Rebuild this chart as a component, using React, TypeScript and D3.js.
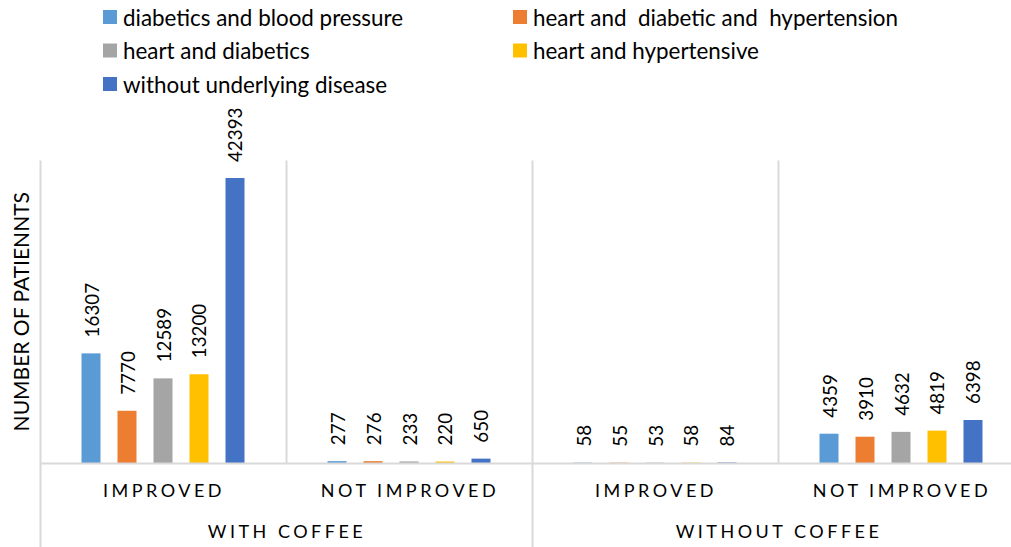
import React, { useEffect, useRef } from 'react';
import * as d3 from 'd3';

const groups = ['WITH COFFEE', 'WITHOUT COFFEE'];
const categories = ['IMPROVED', 'NOT IMPROVED', 'IMPROVED', 'NOT IMPROVED'];
const seriesNames = [
  'diabetics and blood pressure',
  'heart and  diabetic and  hypertension',
  'heart and diabetics',
  'heart and hypertensive',
  'without underlying disease',
];
const colors = ['#5B9BD5', '#ED7D31', '#A5A5A5', '#FFC000', '#4472C4'];

// values per series, one entry per category (with/improved, with/not, without/improved, without/not)
const diabBP = [16307, 277, 58, 4359];
const heartDiabHyp = [7770, 276, 55, 3910];
const heartDiab = [12589, 233, 53, 4632];
const heartHyp = [13200, 220, 58, 4819];
const noDisease = [42393, 650, 84, 6398];
const seriesValues = [diabBP, heartDiabHyp, heartDiab, heartHyp, noDisease];

const App: React.FC = () => {
  const svgRef = useRef<SVGSVGElement | null>(null);

  useEffect(() => {
    if (!svgRef.current) return;
    const svg = d3.select(svgRef.current);
    svg.selectAll('*').remove();

    const width = 1011;
    const height = 547;
    const left = 40;
    const catW = 246;
    const baseY = 463;
    const font = 'Lato, "Open Sans", sans-serif';
    const grid = '#D9D9D9';

    svg.append('rect').attr('width', width).attr('height', height).attr('fill', 'white');

    const x0 = d3.scaleBand<number>()
      .domain(d3.range(categories.length))
      .range([left, left + catW * categories.length])
      .padding(0);

    const x1 = d3.scaleBand<number>()
      .domain(d3.range(seriesNames.length))
      .range([0, catW])
      .paddingInner(17 / 36)
      .paddingOuter(1.153);

    const y = d3.scaleLinear().domain([0, 45000]).range([baseY, 160.5]);

    // vertical separators in the plot
    const g = svg.append('g');
    d3.range(1, categories.length).forEach(i => {
      g.append('line')
        .attr('x1', x0(i)! + 0.5).attr('x2', x0(i)! + 0.5)
        .attr('y1', y(45000)).attr('y2', baseY)
        .attr('stroke', grid).attr('stroke-width', 2);
    });

    // left axis and group ticks running down under the axis
    const groupEdges = [0, 2];
    groupEdges.forEach(i => {
      g.append('line')
        .attr('x1', x0(i)! + 0.5).attr('x2', x0(i)! + 0.5)
        .attr('y1', i === 0 ? y(45000) : baseY).attr('y2', height)
        .attr('stroke', grid).attr('stroke-width', 2);
    });

    // bars
    seriesValues.forEach((vals, s) => {
      vals.forEach((v, c) => {
        const bx = x0(c)! + x1(s)!;
        g.append('rect')
          .attr('x', bx)
          .attr('y', y(v))
          .attr('width', x1.bandwidth())
          .attr('height', baseY - y(v))
          .attr('fill', colors[s]);

        g.append('text')
          .attr('transform', `translate(${bx + x1.bandwidth() / 2},${y(v) - 16}) rotate(-90)`)
          .attr('dominant-baseline', 'central')
          .attr('text-anchor', 'start')
          .style('font', `18.8px ${font}`)
          .attr('fill', '#000')
          .text(String(v));
      });
    });

    // baseline
    g.append('line')
      .attr('x1', left).attr('x2', width)
      .attr('y1', baseY + 0.5).attr('y2', baseY + 0.5)
      .attr('stroke', grid).attr('stroke-width', 2);

    // category labels
    categories.forEach((c, i) => {
      g.append('text')
        .attr('x', x0(i)! + catW / 2 + 1)
        .attr('y', 497)
        .attr('text-anchor', 'middle')
        .attr('letter-spacing', '3.5px')
        .style('font', `18px ${font}`)
        .attr('fill', '#000')
        .text(c);
    });

    groups.forEach((gr, i) => {
      g.append('text')
        .attr('x', x0(i * 2)! + catW + 1)
        .attr('y', 538)
        .attr('text-anchor', 'middle')
        .attr('letter-spacing', '3.5px')
        .style('font', `18px ${font}`)
        .attr('fill', '#000')
        .text(gr);
    });

    // y axis title
    svg.append('text')
      .attr('transform', `translate(20,${(baseY + y(45000)) / 2}) rotate(-90)`)
      .attr('text-anchor', 'middle')
      .attr('dominant-baseline', 'central')
      .style('font', `21px ${font}`)
      .attr('fill', '#000')
      .text('NUMBER OF PATIENNTS');

    // legend
    const legendPos = [
      [103, 17], [513, 17], [103, 50.5], [513, 50.5], [103, 84],
    ];
    seriesNames.forEach((name, i) => {
      const [lx, ly] = legendPos[i];
      const lg = svg.append('g').attr('transform', `translate(${lx},${ly})`);
      lg.append('rect')
        .attr('x', 0).attr('y', -7).attr('width', 14).attr('height', 14)
        .attr('fill', colors[i]);
      lg.append('text')
        .attr('x', 20).attr('y', 0)
        .attr('dominant-baseline', 'central')
        .style('font', `22.4px ${font}`)
        .style('white-space', 'pre')
        .attr('fill', '#000')
        .text(name);
    });
  }, []);

  return (
    <svg
      ref={svgRef}
      width={1011}
      height={547}
      style={{ position: 'absolute', left: 0, top: 0, display: 'block' }}
    />
  );
};

export default App;
